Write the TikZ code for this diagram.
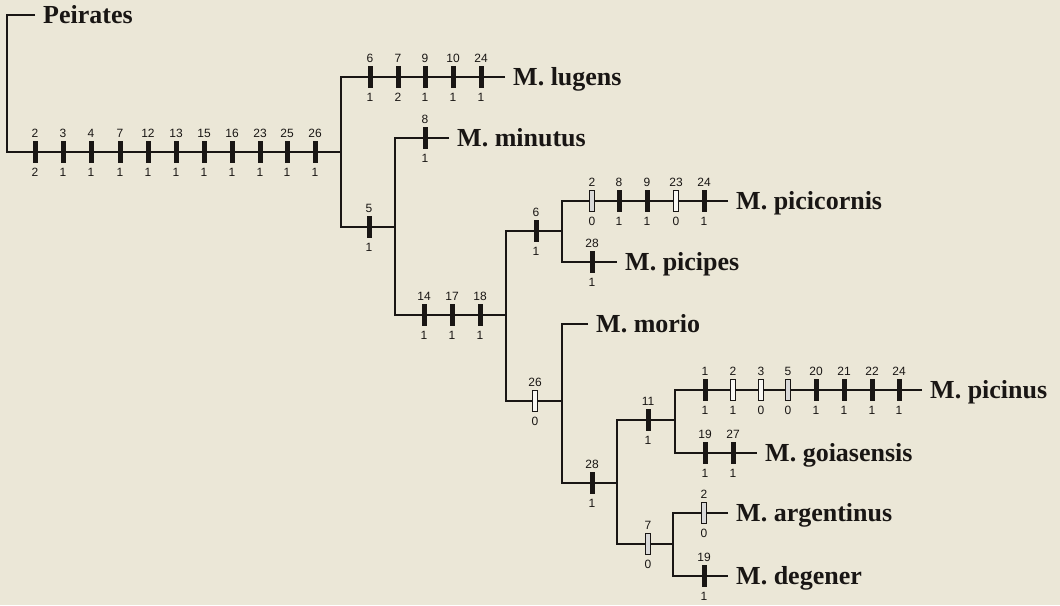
\documentclass[tikz,border=0pt]{standalone}
\usepackage{fontspec}
\setmainfont{Liberation Serif}
\newfontfamily\numfont{Liberation Sans}
\definecolor{paper}{RGB}{235,231,215}
\definecolor{ink}{RGB}{25,22,20}
\tikzset{
  branch/.style={draw=ink, line width=1.8pt},
  taxon/.style={anchor=west, inner xsep=8pt, inner ysep=0pt, text=ink,
    font=\fontsize{26}{26}\selectfont\bfseries, text height=17pt, text depth=0pt},
  syn/.style={rectangle, minimum width=5pt, minimum height=22pt, inner sep=0pt, fill=ink},
  rev/.style={syn, fill=paper!30!white, draw=ink, line width=0.9pt, minimum width=4.5pt, minimum height=21pt},
  stip/.style={rev, fill=black!15},
  num/.style={font=\numfont\fontsize{12}{12}\selectfont, inner sep=0pt,
    text height=8.6pt, text depth=0pt, text=ink},
}
% one character change on a branch: [kind]{name}{x}{y}{character}{state}
\newcommand\apo[6][syn]{%
  \node[#1, label={[num,label distance=3.6pt]90:#5},
            label={[num,label distance=4.6pt]-90:#6}] (#2) at (#3,#4) {};}
% a row of changes on the branch at height #1: x/character/state/kind
\newcommand\apos[2]{%
  \foreach \x/\c/\s/\k in {#2} {%
    \edef\next{\noexpand\apo[\k]{b\x-#1}{\x}{#1}{\c}{\s}}\next}}

\begin{document}
\begin{tikzpicture}[x=1pt,y=-1pt]
\fill[paper] (0,0) rectangle (1060,605);
\useasboundingbox (0,0) rectangle (1060,605);

% terminal taxa
\node[taxon] (peirates)   at (35,15)   {Peirates};
\node[taxon] (lugens)     at (505,77)  {M. lugens};
\node[taxon] (minutus)    at (449,138) {M. minutus};
\node[taxon] (picicornis) at (728,201) {M. picicornis};
\node[taxon] (picipes)    at (617,262) {M. picipes};
\node[taxon] (morio)      at (588,324) {M. morio};
\node[taxon] (picinus)    at (922,390) {M. picinus};
\node[taxon] (goiasensis) at (757,453) {M. goiasensis};
\node[taxon] (argentinus) at (728,513) {M. argentinus};
\node[taxon] (degener)    at (728,576) {M. degener};

% internal nodes
\coordinate (R) at (7,152);
\coordinate (A) at (341,152);
\coordinate (B) at (395,227);
\coordinate (C) at (506,315);
\coordinate (D) at (562,231);
\coordinate (E) at (562,401);
\coordinate (F) at (617,483);
\coordinate (G) at (675,420);
\coordinate (H) at (673,544);

% branches
\draw[branch] (peirates.west) -| (R) -- (A);
\draw[branch] (lugens.west) -| (A) |- (B);
\draw[branch] (minutus.west) -| (B) |- (C);
\draw[branch] (D) -| (C) |- (E);
\draw[branch] (picicornis.west) -| (D) |- (picipes.west);
\draw[branch] (morio.west) -| (E) |- (F);
\draw[branch] (G) -| (F) |- (H);
\draw[branch] (picinus.west) -| (G) |- (goiasensis.west);
\draw[branch] (argentinus.west) -| (H) |- (degener.west);

% character changes
\apos{152}{35/2/2/syn, 63/3/1/syn, 91/4/1/syn, 120/7/1/syn, 148/12/1/syn,
  176/13/1/syn, 204/15/1/syn, 232/16/1/syn, 260/23/1/syn, 287/25/1/syn, 315/26/1/syn}
\apos{77}{370/6/1/syn, 398/7/2/syn, 425/9/1/syn, 453/10/1/syn, 481/24/1/syn}
\apos{227}{369/5/1/syn}
\apos{138}{425/8/1/syn}
\apos{315}{424/14/1/syn, 452/17/1/syn, 480/18/1/syn}
\apos{231}{536/6/1/syn}
\apos{201}{592/2/0/stip, 619/8/1/syn, 647/9/1/syn, 676/23/0/rev, 704/24/1/syn}
\apos{262}{592/28/1/syn}
\apos{401}{535/26/0/rev}
\apos{483}{592/28/1/syn}
\apos{420}{648/11/1/syn}
\apos{390}{705/1/1/syn, 733/2/1/rev, 761/3/0/rev, 788/5/0/stip, 816/20/1/syn,
  844/21/1/syn, 872/22/1/syn, 899/24/1/syn}
\apos{453}{705/19/1/syn, 733/27/1/syn}
\apos{544}{648/7/0/stip}
\apos{513}{704/2/0/stip}
\apos{576}{704/19/1/syn}
\end{tikzpicture}
\end{document}
